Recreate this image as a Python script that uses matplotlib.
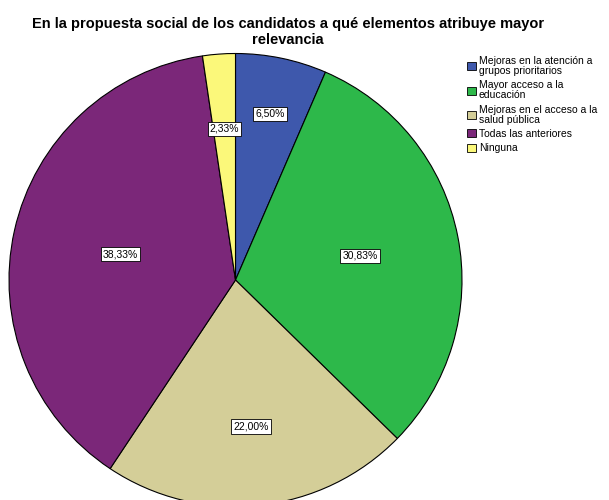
import matplotlib
matplotlib.use("Agg")
import matplotlib.pyplot as plt
import numpy as np

plt.rcParams["font.family"] = ["Liberation Sans", "DejaVu Sans"]

categories = ["Mejoras en la atención a\ngrupos prioritarios",
              "Mayor acceso a la\neducación",
              "Mejoras en el acceso a la\nsalud pública",
              "Todas las anteriores",
              "Ninguna"]
values = [6.50, 30.83, 22.00, 38.33, 2.33]
labels = ["6,50%", "30,83%", "22,00%", "38,33%", "2,33%"]
colors = ["#3e58ac", "#2db84a", "#d4ce98", "#7b2779", "#fbf87a"]
label_dist = [0.75, 0.56, 0.65, 0.52, 0.67]

fig = plt.figure(figsize=(6.09, 5.0), dpi=100)
ax = fig.add_axes([9/609, -6.5/500, 453/609, 453/500])
wedges, _ = ax.pie(values, colors=colors, startangle=90, counterclock=False,
                   radius=1, wedgeprops=dict(edgecolor="black", linewidth=0.8))
for w, lab, d in zip(wedges, labels, label_dist):
    ang = np.deg2rad((w.theta1 + w.theta2) / 2)
    ax.text(d*np.cos(ang), d*np.sin(ang), lab, ha="center", va="center", fontsize=7.5,
            bbox=dict(boxstyle="square,pad=0.2", facecolor="white", edgecolor="black", linewidth=0.6))
ax.set_xlim(-1, 1); ax.set_ylim(-1, 1)
ax.set_aspect("equal")
ax.axis("off")

fig.text(288/609, 1-32/500, "En la propuesta social de los candidatos a qué elementos atribuye mayor\nrelevancia",
         ha="center", va="center", fontsize=10.5, fontweight="bold", linespacing=1.15)

leg = fig.legend(wedges, categories, loc="upper left", bbox_to_anchor=(467/609, 1-56/500),
                 frameon=False, fontsize=7.5, handlelength=0.9, handleheight=0.8,
                 handletextpad=0.25, labelspacing=0.4, borderpad=0, borderaxespad=0)
for h in leg.legend_handles:
    h.set_linewidth(0.6)
for t in leg.get_texts():
    t.set_linespacing(1.02)

fig.savefig("out.png", dpi=100)
